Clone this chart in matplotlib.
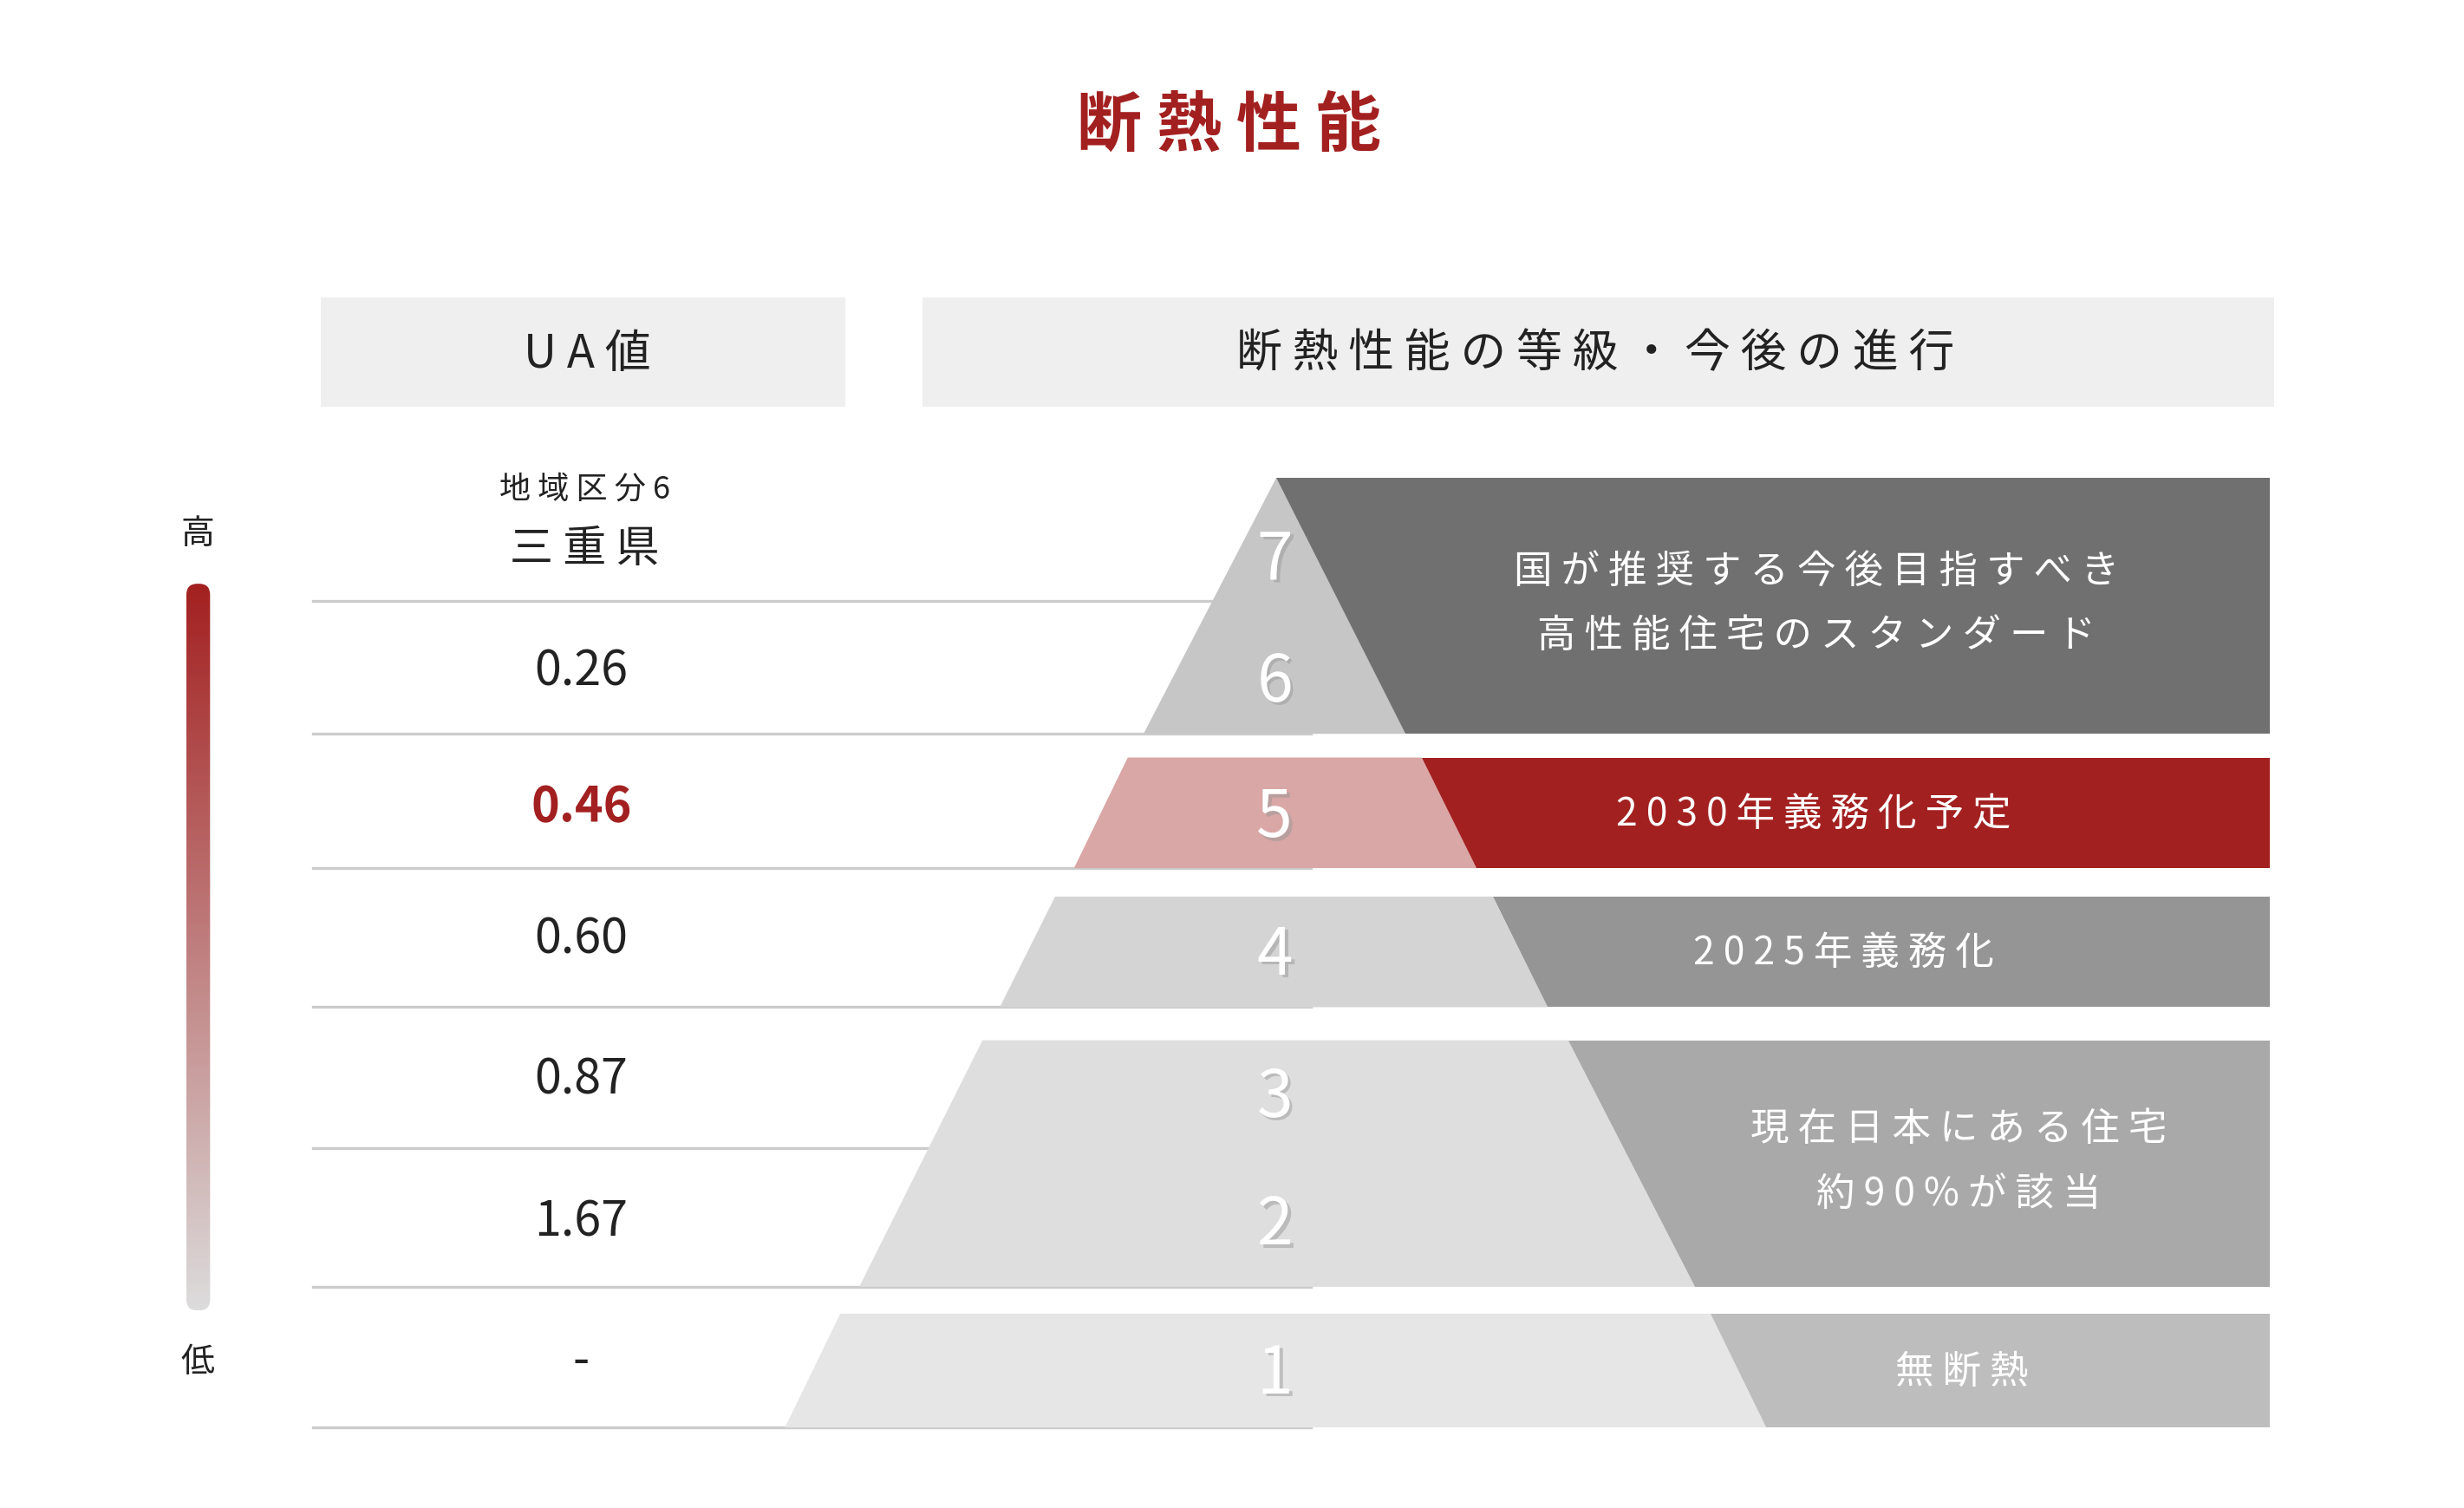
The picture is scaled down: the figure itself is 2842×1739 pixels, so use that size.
import numpy as np
import matplotlib.pyplot as plt
from matplotlib.patches import Rectangle, Polygon, FancyBboxPatch
from matplotlib.colors import LinearSegmentedColormap

plt.rcParams['font.family'] = ['Noto Sans CJK JP', 'DejaVu Sans']

# data
title = '断熱性能'
headers = ['UA値', '断熱性能の等級・今後の進行']
region_labels = ['地域区分6', '三重県']
ua_values = ['0.26', '0.46', '0.60', '0.87', '1.67', '-']
highlight = '0.46'
grades = ['7', '6', '5', '4', '3', '2', '1']
band_notes = [['国が推奨する今後目指すべき', '高性能住宅のスタンダード'],
              ['2030年義務化予定'],
              ['2025年義務化'],
              ['現在日本にある住宅', '約90%が該当'],
              ['無断熱']]

# layout (in reference display pixels)
W, H = 1560, 955
RED = '#a32020'
row_lines = [381, 465, 550, 638, 727, 815, 904]
row_centers = [425, 511, 595, 684, 774, 862]
bands = [  # top, bottom, left_top, left_bot, right_top, right_bot, light, dark, grade y
    (303, 465, 808, 724, 808, 890, '#c6c6c6', '#707070', [355, 432]),
    (480, 550, 714, 680, 900, 935, '#d9a7a5', RED, [518]),
    (568, 638, 668, 633, 945, 980, '#d4d4d4', '#959595', [605]),
    (659, 815, 622, 544, 993, 1073, '#dedede', '#a9a9a9', [695, 776]),
    (832, 904, 532, 497, 1083, 1118, '#e6e6e6', '#bdbdbd', [870]),
]
note_x = [1150, 1148, 1167, 1240, 1242]
RIGHT = 1437


def sp(s):
    return ' '.join(s)


fig = plt.figure(figsize=(14.21, 8.7), dpi=200)
ax = fig.add_axes([0, 0, 1, 1])
ax.set_xlim(0, W)
ax.set_ylim(H, 0)
ax.axis('off')

ax.text(778, 80, sp(title), ha='center', va='center', fontsize=27,
        fontweight='bold', color=RED)

ax.add_patch(Rectangle((203, 189), 332, 69, color='#efefef', lw=0))
ax.add_patch(Rectangle((584, 189), 856, 69, color='#efefef', lw=0))
ax.text(372, 224, sp(headers[0]), ha='center', va='center', fontsize=19, color='#222')
ax.text(1010, 224, sp(headers[1]), ha='center', va='center', fontsize=19, color='#222')

# gradient bar
cmap = LinearSegmentedColormap.from_list('g', [RED, '#dcdcdc'])
grad = np.linspace(0, 1, 256).reshape(-1, 1)
im = ax.imshow(grad, cmap=cmap, extent=(118, 133, 830, 370), aspect='auto', zorder=2)
clip = FancyBboxPatch((118, 370), 15, 460, boxstyle='round,pad=0,rounding_size=7',
                      transform=ax.transData, fc='none', ec='none')
ax.add_patch(clip)
im.set_clip_path(clip)
ax.set_xlim(0, W)
ax.set_ylim(H, 0)
ax.text(125, 338, '高', ha='center', va='center', fontsize=14, color='#222')
ax.text(125, 862, '低', ha='center', va='center', fontsize=14, color='#222')

# left column
ax.text(370, 310, sp(region_labels[0]), ha='center', va='center', fontsize=13, color='#222')
ax.text(370, 348, sp(region_labels[1]), ha='center', va='center', fontsize=18, color='#222')
for y in row_lines:
    ax.plot([198, 830], [y, y], color='#cccccc', lw=1.2, zorder=1)
for v, y in zip(ua_values, row_centers):
    hl = v == highlight
    ax.text(368, y, v, ha='center', va='center', fontsize=20,
            color=RED if hl else '#222', fontweight='bold' if hl else 'normal')

# pyramid
gi = 0
for (t, b, lt, lb, rt, rb, light, dark, gys), notes, nx in zip(bands, band_notes, note_x):
    ax.add_patch(Polygon([(lt, t), (rt, t), (rb, b), (lb, b)], closed=True,
                         fc=light, ec='none', zorder=3))
    ax.add_patch(Polygon([(rt, t), (RIGHT, t), (RIGHT, b), (rb, b)], closed=True,
                         fc=dark, ec='none', zorder=3))
    for gy in gys:
        ax.text(809, gy + 2, grades[gi], ha='center', va='center', fontsize=27,
                color='#999999', alpha=0.5, zorder=4)
        ax.text(807, gy, grades[gi], ha='center', va='center', fontsize=27,
                color='white', zorder=5)
        gi += 1
    mid = (t + b) / 2
    n = len(notes)
    for k, line in enumerate(notes):
        y = mid + (k - (n - 1) / 2) * 41 - (2 if n > 1 else 0)
        ax.text(nx, y, sp(line), ha='center', va='center', fontsize=16,
                color='white', zorder=5)

fig.savefig('out.png', dpi=200, facecolor='white')
